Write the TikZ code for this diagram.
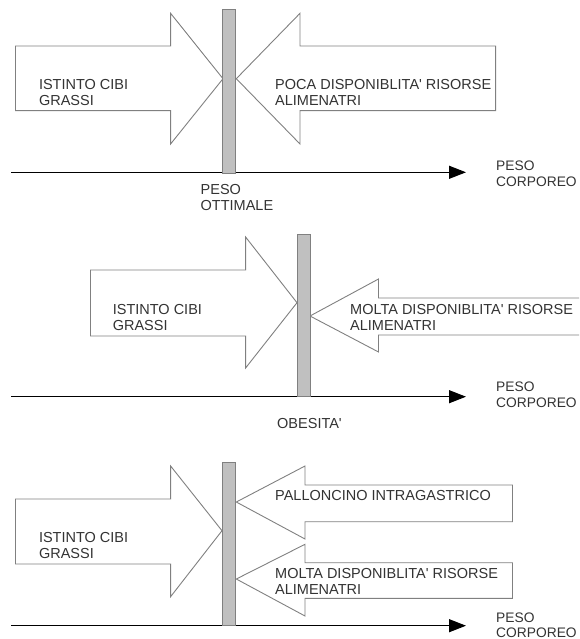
\documentclass[tikz,border=0pt]{standalone}
\usepackage{fontspec}
\setmainfont{Liberation Sans}[Ligatures=TeXOff]
\usetikzlibrary{arrows.meta}
\definecolor{bordo}{HTML}{808080}
\definecolor{barragrigia}{HTML}{C0C0C0}
\definecolor{testogrigio}{HTML}{333333}

\begin{document}
\begin{tikzpicture}[x=1pt,y=-1pt,
    freccia/.style={draw=bordo,fill=white,line width=0.9pt},
    barra/.style={draw=bordo,fill=barragrigia,line width=0.9pt},
    asse/.style={-{Triangle[length=17pt,width=13pt]},line width=1.2pt},
    testo/.style={anchor=base west,align=left,inner sep=0pt,text=testogrigio,font=\fontsize{14.5}{16}\selectfont},
    peso/.style={testo,font=\fontsize{13.8}{16}\selectfont}]
  \clip (0,0) rectangle (579,639);

  \draw[freccia] (15.5,46) -- (170.6,46) -- (170.6,13.3) -- (223,78.7) -- (170.6,144) -- (170.6,110.7) -- (15.5,110.7) -- cycle;
  \draw[freccia] (495.6,46) -- (300,46) -- (300,13.3) -- (236.3,78.7) -- (300,144) -- (300,110.7) -- (495.6,110.7) -- cycle;
  \coordinate (asse1a) at (11,172.3);
  \coordinate (asse1b) at (466,172.3);
  \draw[asse] (asse1a) -- (asse1b);
  \draw[barra] (222,9.3) rectangle (235,173);
  \node[testo] (istinto1) at (38.8,105.2) {ISTINTO CIBI\\GRASSI};
  \node[testo] (poca) at (275,105.2) {POCA DISPONIBLITA' RISORSE\\ALIMENATRI};
  \node[peso] (corporeo1) at (496,186.9) {PESO\\CORPOREO};
  \node[testo] (ottimale) at (200.5,210.2) {PESO\\OTTIMALE};

  \draw[freccia] (90.5,270) -- (245.6,270) -- (245.6,237) -- (297,302.7) -- (245.6,368) -- (245.6,336) -- (90.5,336) -- cycle;
  \draw[freccia] (590,298) -- (378.5,298) -- (378.5,279) -- (310,316) -- (378.5,352) -- (378.5,335) -- (590,335) -- cycle;
  \coordinate (asse2a) at (11,396.7);
  \coordinate (asse2b) at (466,396.7);
  \draw[asse] (asse2a) -- (asse2b);
  \draw[barra] (297,234) rectangle (310,396.7);
  \node[testo] (istinto2) at (112.6,330.2) {ISTINTO CIBI\\GRASSI};
  \node[testo] (molta2) at (350,330.2) {MOLTA DISPONIBLITA' RISORSE\\ALIMENATRI};
  \node[peso] (corporeo2) at (496,407.9) {PESO\\CORPOREO};
  \node[testo] (obesita) at (277,428.2) {OBESITA'};

  \draw[freccia] (15.5,499) -- (170.6,499) -- (170.6,466) -- (222,530.7) -- (170.6,596.7) -- (170.6,564) -- (15.5,564) -- cycle;
  \draw[freccia] (512.5,485) -- (305,485) -- (305,466) -- (236.3,502) -- (305,539) -- (305,521.7) -- (512.5,521.7) -- cycle;
  \draw[freccia] (512.5,562.7) -- (305,562.7) -- (305,544.3) -- (236.3,579) -- (305,616) -- (305,598.3) -- (512.5,598.3) -- cycle;
  \coordinate (asse3a) at (11,625.7);
  \coordinate (asse3b) at (466,625.7);
  \draw[asse] (asse3a) -- (asse3b);
  \draw[barra] (222,462) rectangle (235,625.7);
  \node[testo] (istinto3) at (38.8,558.5) {ISTINTO CIBI\\GRASSI};
  \node[testo] (palloncino) at (275,500.2) {PALLONCINO INTRAGASTRICO};
  \node[testo] (molta3) at (275,594.5) {MOLTA DISPONIBLITA' RISORSE\\ALIMENATRI};
  \node[peso,font=\fontsize{13.8}{15}\selectfont] (corporeo3) at (496,637) {PESO\\CORPOREO};
\end{tikzpicture}
\end{document}
